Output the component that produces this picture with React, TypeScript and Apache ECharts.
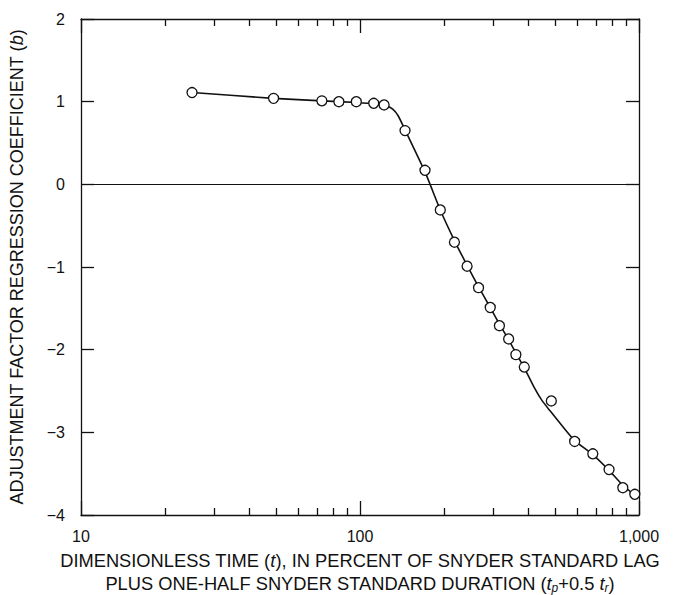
import React, { useEffect, useRef } from "react";
import * as echarts from "echarts";

// Observed points: dimensionless time (percent) and regression coefficient b
const pointTime = [25, 49, 73, 84, 97, 112, 122, 145, 171, 194, 218, 242, 266, 293, 316, 341, 362, 388, 485, 588, 683, 781, 875, 966];
const pointCoef = [1.11, 1.04, 1.01, 1.0, 1.0, 0.98, 0.96, 0.65, 0.17, -0.31, -0.7, -0.99, -1.25, -1.49, -1.71, -1.87, -2.06, -2.21, -2.62, -3.11, -3.26, -3.45, -3.67, -3.75];

// Fitted curve
const curveTime = [25, 49, 73, 97, 115, 124, 131, 137, 145, 171, 194, 218, 242, 266, 293, 316, 341, 362, 388, 420, 450, 480, 530, 588, 683, 781, 875, 966];
const curveCoef = [1.11, 1.04, 1.01, 0.99, 0.97, 0.95, 0.91, 0.83, 0.66, 0.15, -0.31, -0.68, -0.98, -1.24, -1.49, -1.69, -1.88, -2.04, -2.22, -2.45, -2.62, -2.74, -2.92, -3.1, -3.27, -3.46, -3.64, -3.76];

// Axes
const xMin = 10;
const xMax = 1000;
const xMajorTicks = [10, 100, 1000];
const xMinorTicks = [20, 30, 40, 50, 60, 70, 80, 90, 200, 300, 400, 500, 600, 700, 800, 900];
const yMin = -4;
const yMax = 2;
const yInterval = 1;

const FONT = "'Liberation Sans', Arial, Helvetica, sans-serif";
const INK = "#111";

export default function App() {
  const ref = useRef<HTMLDivElement>(null);
  useEffect(() => {
    if (!ref.current) return;
    const chart = echarts.init(ref.current, undefined, { renderer: "svg" });
    const line = (show: boolean) => ({ show, onZero: false, lineStyle: { color: INK, width: 1.3 } });
    const xAxisBase = (position: string, show: boolean, ticks: number[], len: number) => ({
      type: "log",
      logBase: 10,
      min: xMin,
      max: xMax,
      position,
      axisLine: line(show),
      axisTick: { show: true, inside: true, length: len, customValues: ticks, lineStyle: { color: INK, width: 1.3 } },
      minorTick: { show: false },
      splitLine: { show: false },
      axisLabel: { show: false },
    });
    const option: any = {
      animation: false,
      grid: { left: 81, right: 34, top: 19, bottom: 80, containLabel: false },
      xAxis: [
        {
          ...xAxisBase("bottom", true, xMinorTicks, 7),
          axisLabel: {
            show: true,
            customValues: xMajorTicks,
            margin: 13,
            color: INK,
            fontSize: 16,
            fontFamily: FONT,
            formatter: (v: number) => (v >= 1000 ? "1,000" : String(v)),
          },
        },
        xAxisBase("top", true, xMinorTicks, 7),
        xAxisBase("bottom", false, xMajorTicks, 14),
        xAxisBase("top", false, xMajorTicks, 14),
      ],
      yAxis: [
        {
          type: "value",
          min: yMin,
          max: yMax,
          interval: yInterval,
          position: "left",
          axisLine: line(true),
          axisTick: { show: true, inside: true, length: 13, lineStyle: { color: INK, width: 1.3 } },
          splitLine: { show: false },
          axisLabel: {
            margin: 16,
            color: INK,
            fontSize: 16,
            fontFamily: FONT,
            formatter: (v: number) => (v < 0 ? "\u2212" + Math.abs(v) : String(v)),
          },
          name: "ADJUSTMENT FACTOR REGRESSION COEFFICIENT ({i|b})",
          nameLocation: "middle",
          nameRotate: 90,
          nameGap: 55,
          nameTextStyle: {
            color: INK,
            fontSize: 18,
            fontFamily: FONT,
            rich: { i: { fontStyle: "italic", fontSize: 18, fontFamily: FONT, color: INK } },
          },
        },
        {
          type: "value",
          min: yMin,
          max: yMax,
          interval: yInterval,
          position: "right",
          axisLine: line(true),
          axisTick: { show: true, inside: true, length: 13, lineStyle: { color: INK, width: 1.3 } },
          splitLine: { show: false },
          axisLabel: { show: false },
        },
      ],
      graphic: [
        {
          type: "text",
          x: 360,
          y: 560,
          style: {
            text: "DIMENSIONLESS TIME ({i|t}), IN PERCENT OF SNYDER STANDARD LAG",
            textAlign: "center",
            textVerticalAlign: "middle",
            fontSize: 18.3,
            fontFamily: FONT,
            fill: INK,
            rich: { i: { fontStyle: "italic", fontSize: 18.3, fontFamily: FONT, fill: INK } },
          },
        },
        {
          type: "text",
          x: 360,
          y: 583,
          style: {
            text: "PLUS ONE-HALF SNYDER STANDARD DURATION ({i|t}{s|p}+0.5 {i|t}{s|r})",
            textAlign: "center",
            textVerticalAlign: "middle",
            fontSize: 18.3,
            fontFamily: FONT,
            fill: INK,
            lineHeight: 22,
            rich: {
              i: { fontStyle: "italic", fontSize: 18.3, fontFamily: FONT, fill: INK, lineHeight: 22 },
              s: { fontStyle: "italic", fontSize: 12, fontFamily: FONT, fill: INK, verticalAlign: "bottom", lineHeight: 14 },
            },
          },
        },
      ],
      series: [
        {
          type: "line",
          xAxisIndex: 0,
          yAxisIndex: 0,
          data: curveTime.map((x, i) => [x, curveCoef[i]]),
          showSymbol: false,
          symbol: "none",
          smooth: 0.15,
          lineStyle: { color: INK, width: 1.6 },
          silent: true,
          z: 2,
        },
        {
          type: "scatter",
          xAxisIndex: 0,
          yAxisIndex: 0,
          data: pointTime.map((x, i) => [x, pointCoef[i]]),
          symbol: "circle",
          symbolSize: 10,
          itemStyle: { color: "#fff", borderColor: INK, borderWidth: 1.3, opacity: 1 },
          silent: true,
          z: 3,
          markLine: {
            silent: true,
            symbol: ["none", "none"],
            label: { show: false },
            lineStyle: { color: INK, width: 1.2, type: "solid" },
            data: [{ yAxis: 0 }],
          },
        },
      ],
    };
    chart.setOption(option);
    return () => chart.dispose();
  }, []);
  return (
    <div
      ref={ref}
      style={{ position: "absolute", left: 0, top: 0, width: 673, height: 595, background: "#fff" }}
    />
  );
}
